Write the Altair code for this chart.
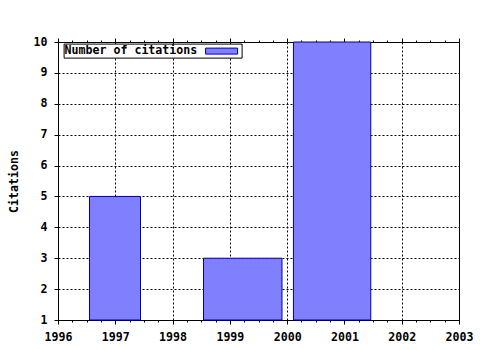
import altair as alt
import pandas as pd

# data
years = [1997, 1999, 2001]
bar_start = [1996.55, 1998.54, 2000.11]
bar_end = [1997.44, 1999.91, 2001.46]
citations = [5, 3, 10]
series_name = "Number of citations"

x_major = [1996, 1997, 1998, 1999, 2000, 2001, 2002, 2003]
x_minor = [y + q for y in range(1996, 2003) for q in (0.25, 0.5, 0.75)]
y_ticks = [1, 2, 3, 4, 5, 6, 7, 8, 9, 10]

df = pd.DataFrame({
    "year": years,
    "start": bar_start,
    "end": bar_end,
    "citations": citations,
    "series": [series_name] * len(years),
})

FONT = "DejaVu Sans Mono"
FS = 11.6
xscale = alt.Scale(domain=[1996, 2003], nice=False, zero=False)
yscale = alt.Scale(domain=[1, 10], nice=False, zero=False)

base = alt.Chart(df)

bars = base.mark_bar(stroke="#0000a0", strokeWidth=1, opacity=1).encode(
    x=alt.X("start:Q", scale=xscale, axis=alt.Axis(
        values=x_major, format="d", title=None, orient="bottom",
        tickSize=4, labelPadding=7, domain=False, labelFlush=False, labelOverlap=False,
        labelBound=False,
        grid=True, gridColor="black", gridDash=[2, 2], gridOpacity=1, gridWidth=1,
        labelFont=FONT, labelFontWeight="bold", labelFontSize=FS, labelColor="black",
        tickColor="black")),
    x2="end:Q",
    y=alt.Y("citations:Q", scale=yscale, axis=alt.Axis(
        values=y_ticks, format="d", title="Citations", orient="left",
        tickSize=4, labelPadding=7, domain=False, labelFlush=False, labelOverlap=False,
        grid=True, gridColor="black", gridDash=[2, 2], gridOpacity=1, gridWidth=1,
        labelFont=FONT, labelFontWeight="bold", labelFontSize=FS, labelColor="black",
        tickColor="black",
        titleFont=FONT, titleFontWeight="bold", titleFontSize=FS, titleColor="black",
        titleX=-44, titleY=139, titleAlign="center", titleBaseline="middle")),
    y2=alt.datum(1),
    color=alt.Color("series:N", scale=alt.Scale(range=["#8080ff"]), legend=alt.Legend(
        title=series_name, titleOrient="left", orient="none", legendX=5.6, legendY=1.6,
        titleFont=FONT, titleFontWeight="bold", titleFontSize=FS, titleColor="black",
        titlePadding=8, titleAnchor="start", titleBaseline="top",
        labelExpr="''", labelOffset=14, labelFontSize=1,
        symbolType="M-4,-0.25H4V1.25H-4Z", symbolSize=64, symbolOffset=11.5,
        symbolStrokeColor="#0000a0", symbolStrokeWidth=1, symbolOpacity=1,
        fillColor="white", strokeColor="black", padding=1,
        cornerRadius=0)),
)

def tick_layer(vals, orient, size):
    return base.mark_bar(opacity=0).encode(
        x=alt.X("start:Q", scale=xscale, axis=alt.Axis(
            values=vals, orient=orient, labels=False, title=None, grid=False,
            domain=False, tickSize=size, tickColor="black")),
        x2="end:Q",
    )

chart = alt.layer(
    bars,
    tick_layer(x_minor, "bottom", 2),
    tick_layer(x_major, "top", 4),
    tick_layer(x_minor, "top", 2),
).resolve_scale(x="shared").resolve_axis(x="independent").properties(
    width=401, height=278,
    autosize=alt.AutoSizeParams(type="none"),
    padding={"left": 58, "top": 42, "right": 21, "bottom": 30},
    background="white",
).configure_view(stroke="black", strokeWidth=1)

chart.save("out.html", embed_options={"renderer": "svg", "actions": False})
